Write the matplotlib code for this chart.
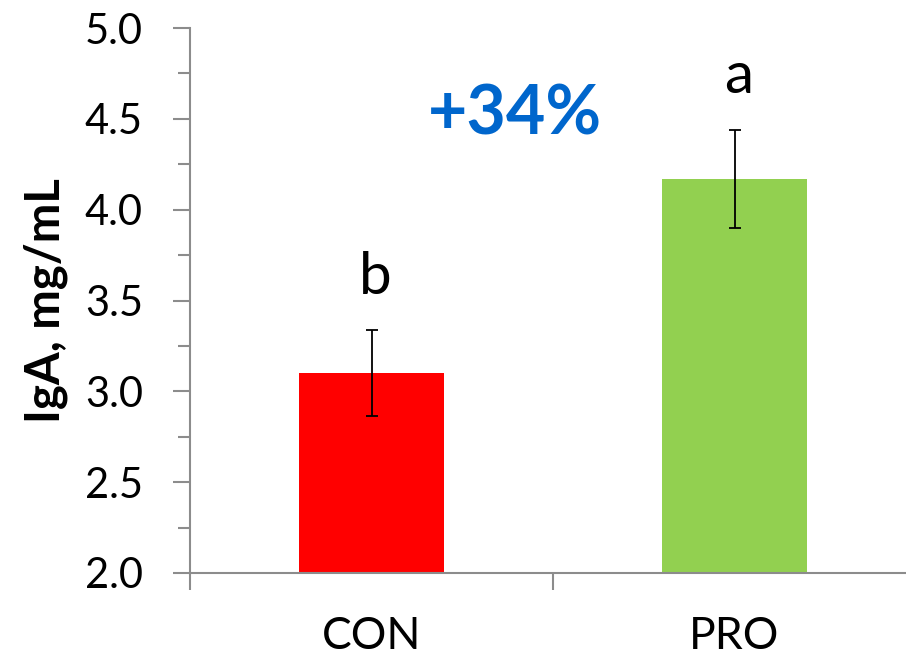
import matplotlib.pyplot as plt
from matplotlib.ticker import MultipleLocator, FixedLocator

groups = ['CON', 'PRO']
iga = [3.10, 4.17]
sem = [0.235, 0.27]
letters = ['b', 'a']
bar_colors = ['#FF0000', '#92D050']
change_label = '+34%'

plt.rcParams['font.family'] = ['Lato', 'DejaVu Sans']
axis_grey = '#8C8C8C'

fig = plt.figure(figsize=(9.06, 6.62), dpi=100)
# plot area runs a little past the right edge of the figure
ax = fig.add_axes([190/906, 1 - 573/662, 726/906, 545/662])

x = list(range(len(groups)))
ax.bar(x, iga, width=0.4, color=bar_colors, zorder=2)
ax.errorbar(x, iga, yerr=sem, fmt='none', ecolor='black',
            elinewidth=1.3, capsize=4.5, capthick=1.3, zorder=3)

for xi, v, s, lab in zip(x, iga, sem, letters):
    ax.text(xi + 0.01, v + s + 0.2, lab, ha='center', va='baseline', fontsize=42)

ax.text(0.395, 4.52, change_label, ha='center', va='center', fontsize=49,
        fontweight='bold', color='#0066CC')

ax.set_xlim(-0.5, 1.5)
ax.set_ylim(2.0, 5.0)
ax.yaxis.set_major_locator(MultipleLocator(0.5))
ax.yaxis.set_minor_locator(MultipleLocator(0.25))
ax.yaxis.set_major_formatter(lambda v, p: f'{v:.1f}')
ax.set_xticks(x)
ax.set_xticklabels(groups)
ax.xaxis.set_minor_locator(FixedLocator([-0.5, 0.5, 1.5]))

for side in ['top', 'right']:
    ax.spines[side].set_visible(False)
for side in ['left', 'bottom']:
    ax.spines[side].set_color(axis_grey)
    ax.spines[side].set_linewidth(1.5)

ax.tick_params(axis='y', which='major', direction='out', length=12, width=1.5,
               color=axis_grey, labelsize=30, pad=22)
ax.tick_params(axis='y', which='minor', direction='out', length=9, width=1.5,
               color=axis_grey)
ax.tick_params(axis='x', which='major', length=0, labelsize=32, pad=31)
ax.tick_params(axis='x', which='minor', direction='out', length=12, width=1.5,
               color=axis_grey)

ax.set_ylabel('IgA, mg/mL', fontsize=34, fontweight='bold', labelpad=12)

fig.savefig('out.png', dpi=100)
